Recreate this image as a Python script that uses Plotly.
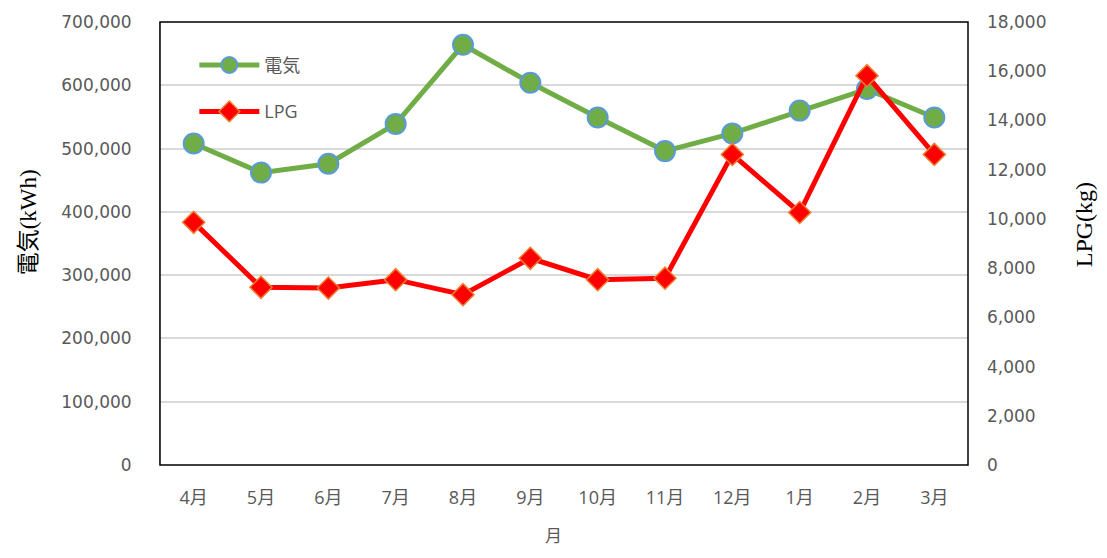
import plotly.graph_objects as go

months = ["4月", "5月", "6月", "7月", "8月", "9月", "10月", "11月", "12月", "1月", "2月", "3月"]
electric_kwh = [508000, 462000, 476000, 539000, 664000, 604000, 549000, 496000, 524000, 560000, 594000, 549000]
lpg_kg = [9860, 7220, 7190, 7530, 6920, 8400, 7530, 7590, 12620, 10260, 15820, 12620]

left_ticks = [0, 100000, 200000, 300000, 400000, 500000, 600000, 700000]
right_ticks = [0, 2000, 4000, 6000, 8000, 10000, 12000, 14000, 16000, 18000]

ytick_font = dict(family="DejaVu Sans, sans-serif", size=17, color="#595959")
xtick_font = dict(family="Open Sans, Noto Sans CJK JP, sans-serif", size=18, color="#595959")
serif = "Liberation Serif, DejaVu Serif, Noto Sans CJK JP, serif"

fig = go.Figure()
fig.add_trace(go.Scatter(
    x=months, y=electric_kwh, name="電気", mode="lines+markers",
    line=dict(color="#70AD47", width=5),
    marker=dict(symbol="circle", size=20, color="#70AD47", line=dict(color="#5B9BD5", width=2)),
    yaxis="y", legendgroup="a",
))
fig.add_trace(go.Scatter(
    x=months, y=lpg_kg, name="LPG", mode="lines+markers",
    line=dict(color="#FF0000", width=5),
    marker=dict(symbol="diamond", size=17, color="#FF0000", line=dict(color="#ED7D31", width=1.5)),
    yaxis="y2", legendgroup="b",
))

fig.update_layout(
    width=1091, height=542,
    margin=dict(l=152, r=131, t=14, b=85, autoexpand=False),
    paper_bgcolor="white", plot_bgcolor="white",
    showlegend=True,
    legend=dict(x=0.0425, y=0.944, xanchor="left", yanchor="top",
                font=dict(family="Open Sans, Noto Sans CJK JP, sans-serif", size=18, color="#595959"),
                bgcolor="rgba(0,0,0,0)", traceorder="grouped", tracegroupgap=20, itemwidth=60),
    xaxis=dict(type="category", range=[-0.5, 11.5], showgrid=False, zeroline=False, automargin=False,
               tickfont=xtick_font, ticks="", ticklabelstandoff=20, fixedrange=True),
    yaxis=dict(range=[0, 700000], tickvals=left_ticks, tickformat=",d", automargin=False,
               showgrid=True, gridcolor="#D9D9D9", gridwidth=1.5, zeroline=False,
               tickfont=ytick_font, ticklabelstandoff=24, showline=True, linecolor="#BFBFBF"),
    yaxis2=dict(range=[0, 18000], tickvals=right_ticks, tickformat=",d", overlaying="y", side="right",
                automargin=False, showgrid=False, zeroline=False, tickfont=ytick_font, ticklabelstandoff=18),
    shapes=[dict(type="rect", xref="paper", yref="paper", x0=0, x1=1, y0=0, y1=1,
                 line=dict(color="black", width=1.5), layer="above")],
    annotations=[
        dict(text="電気(kWh)", xref="paper", yref="paper", x=-0.163, y=0.5485, showarrow=False,
             textangle=-90, font=dict(family=serif, size=23, color="black"), xanchor="center", yanchor="middle"),
        dict(text="LPG(kg)", xref="paper", yref="paper", x=1.144, y=0.542, showarrow=False,
             textangle=-90, font=dict(family=serif, size=24, color="black"), xanchor="center", yanchor="middle"),
        dict(text="月", xref="paper", yref="paper", x=0.487, y=-0.1896, showarrow=False,
             font=dict(family="Noto Sans CJK JP, sans-serif", size=17, color="#595959"), xanchor="center", yanchor="bottom"),
    ],
)

fig.write_html("out.html")
